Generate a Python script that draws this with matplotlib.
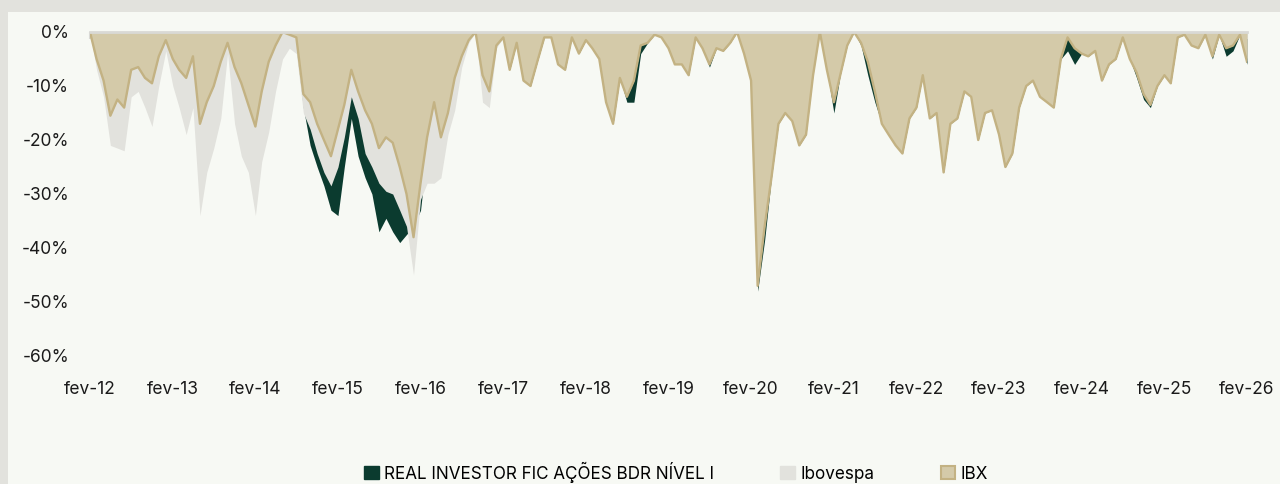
"""Drawdown chart: fund vs Ibovespa vs IBX."""
import matplotlib
matplotlib.use('Agg')
import matplotlib.pyplot as plt
import pandas as pd
from matplotlib.patches import Patch, Rectangle
from matplotlib.ticker import FuncFormatter

C = {'border': '#e2e2dd', 'bg': '#f7f9f4', 'fund': '#0b3b2f', 'ibov': '#e2e2dd',
     'ibx': '#d4caa9', 'ibx_edge': '#c3b283', 'axis': '#d9d9d5', 'text': '#1a1a1a'}

dates = pd.date_range('2012-02-01', '2026-02-01', freq='MS')
tick_dates = pd.date_range('2012-02-01', '2026-02-01', freq='12MS')
tick_labels = ['fev-12', 'fev-13', 'fev-14', 'fev-15', 'fev-16', 'fev-17', 'fev-18',
               'fev-19', 'fev-20', 'fev-21', 'fev-22', 'fev-23', 'fev-24', 'fev-25', 'fev-26']
series_names = ['REAL INVESTOR FIC AÇÕES BDR NÍVEL I', 'Ibovespa', 'IBX']

# drawdown in %, monthly, fev-12 .. fev-26
ibx = [0, -5, -9, -15.5, -12.5, -14, -7, -6.5, -8.5, -9.5, -4.5, -1.5,
       -5, -7, -8.5, -4.5, -17, -13, -10, -5.5, -2, -6.5, -9.5, -13.5,
       -17.5, -11, -5.5, -2.5, 0, -0.5, -1, -11.5, -13, -17, -20, -23,
       -18, -13.5, -7, -11, -14.5, -17, -21.5, -19.5, -20.5, -25, -30, -38,
       -28, -19.5, -13, -19.5, -15, -8.5, -4.5, -1.5, 0, -8, -11, -2.5,
       -1, -7, -2, -9, -10, -5.5, -1, -1, -6, -7, -1, -4,
       -1.5, -3, -5, -13, -17, -8.5, -12, -9, -2.5, -2, -0.5, -1,
       -3, -6, -6, -8, -1, -3, -6, -3, -3.5, -2, 0, -4,
       -9, -47, -36, -27, -17, -15, -16.5, -21, -19, -8, 0, -7,
       -13, -8, -2.5, 0, -2, -5.5, -11, -17, -19, -21, -22.5, -16,
       -14, -8, -16, -15, -26, -17, -16, -11, -12, -20, -15, -14.5,
       -19, -25, -22.5, -14, -10, -9, -12, -13, -14, -5, -1, -3,
       -4, -4.5, -3.5, -9, -6, -5, -1, -5, -7.5, -11.5, -13.5, -10,
       -8, -9.5, -1, -0.5, -2.5, -3, -0.5, -4.5, -0.5, -3, -2.5, -0.5,
       -5.5]

ibov = [0, -7, -12, -21, -21.5, -22, -12, -11, -14, -17.5, -10, -3.5,
        -10, -14, -19, -14, -34, -26, -21.5, -16, -4, -17, -23, -26,
        -34, -24, -18.5, -11, -5, -3, -4, -15, -18, -22.5, -26, -28.5,
        -25, -19.5, -12, -16, -22.5, -25, -28, -29.5, -30, -33, -36, -45,
        -31, -28, -28, -27, -19, -14.5, -6.5, -2, 0, -13, -14, -3,
        -1, -6.5, -2, -8.5, -9.5, -5, -1, -1, -5.5, -6.5, -1, -3.5,
        -1, -2.5, -4.5, -12.5, -16, -8, -11.5, -8.5, -2, -1.5, 0, -1,
        -2.5, -5.5, -5.5, -7.5, -1, -2.5, -5.5, -2.5, -3, -1.5, 0, -3.5,
        -8.5, -46, -35, -26, -16.5, -14.5, -16, -20, -18.5, -7.5, 0, -6.5,
        -12.5, -7.5, -2, 0, -1.5, -5, -10.5, -16, -18, -20, -22, -15,
        -13, -7.5, -15, -14.5, -25, -16, -15, -10.5, -11.5, -19, -14, -14,
        -18, -24, -22, -13.5, -9.5, -8.5, -11.5, -12.5, -13.5, -4.5, -0.5, -2.5,
        -3.5, -4, -3, -8.5, -5.5, -4.5, -0.5, -4.5, -7, -11, -13, -9.5,
        -7.5, -9, -0.5, 0, -2, -2.5, 0, -4, 0, -2.5, -2, 0,
        -5]

fund = [0, -4.5, -8.5, -15, -12, -13.5, -6.5, -6, -8, -9, -4, -1,
        -4.5, -6.5, -8, -4, -16, -12.5, -9.5, -5, -1.5, -6, -9, -13,
        -17, -10.5, -5, -2, 0, -1, -3, -14, -21, -25, -28.5, -33,
        -34, -25, -16, -23, -27, -30, -37, -34.5, -37, -39, -37.5, -36,
        -33, -22, -14, -19, -15, -8.5, -4.5, -1.5, 0, -8, -11, -2.5,
        -1, -7, -2, -9, -10, -5.5, -1, -1, -6, -7, -1, -4,
        -1.5, -3, -5, -13, -17, -8.5, -13, -13, -4, -2, -0.5, -1,
        -3, -6, -6, -8, -1, -3, -6.5, -3, -3.5, -2, 0, -4,
        -9, -48, -38.5, -27, -17, -15, -16.5, -21, -19, -6, 0, -7,
        -15, -8, -2.5, 0, -2.5, -8, -13, -17, -19, -21, -22.5, -16,
        -14, -8, -16, -15, -26, -17, -16, -11, -12, -20, -15, -14.5,
        -19, -25, -22.5, -14, -10, -9, -12, -13, -14, -5, -3.5, -6,
        -4, -4.5, -3.5, -9, -6, -5, -1, -5, -8.5, -12.5, -14, -10,
        -8, -9.5, -1, -0.5, -2.5, -3, -0.5, -5, -0.5, -4.5, -3.5, -0.5,
        -6]

W, H = 1280, 484
fig = plt.figure(figsize=(W / 100, H / 100), dpi=100)
fig.patch.set_facecolor(C['bg'])
# grey frame strips at top and left
fig.patches.append(Rectangle((0, 1 - 12 / H), 1, 12 / H, transform=fig.transFigure,
                             facecolor=C['border'], edgecolor='none', zorder=-5))
fig.patches.append(Rectangle((0, 0), 7.5 / W, 1, transform=fig.transFigure,
                             facecolor=C['border'], edgecolor='none', zorder=-5))

ax = fig.add_axes([90 / W, 1 - 356 / H, 1157 / W, 324 / H])
ax.set_facecolor(C['bg'])

ax.fill_between(dates, fund, 0, color=C['fund'], linewidth=0, zorder=1)
ax.fill_between(dates, ibov, 0, color=C['ibov'], linewidth=0, zorder=2)
ax.fill_between(dates, ibx, 0, color=C['ibx'], linewidth=0, zorder=3)
ax.plot(dates, ibx, color=C['ibx_edge'], lw=1.7, zorder=4)

ax.set_xlim(dates[0], dates[-1])
ax.set_ylim(-60, 0)
ax.set_yticks(range(-60, 1, 10))
ax.yaxis.set_major_formatter(FuncFormatter(lambda v, p: f'{v:.0f}%'))
ax.set_xticks(tick_dates)
ax.set_xticklabels(tick_labels)

for s in ['left', 'right', 'bottom']:
    ax.spines[s].set_visible(False)
ax.spines['top'].set_color(C['axis'])
ax.spines['top'].set_linewidth(2)
ax.spines['top'].set_zorder(5)

font = 'Inter'
ax.tick_params(axis='y', length=0, pad=15, labelsize=12.5, labelcolor=C['text'])
ax.tick_params(axis='x', bottom=False, top=True, direction='in', length=5, width=1.5,
               color=C['axis'], pad=18, labelsize=12.5, labelcolor=C['text'])
for lab in ax.get_xticklabels() + ax.get_yticklabels():
    lab.set_fontfamily(font)

handles = [Patch(facecolor=C['fund'], edgecolor=C['fund']),
           Patch(facecolor=C['ibov'], edgecolor=C['ibov']),
           Patch(facecolor=C['ibx'], edgecolor=C['ibx_edge'], linewidth=1.5)]
fig.legend(handles, series_names, loc='center', bbox_to_anchor=(676 / W, 1 - 472 / H),
           ncol=3, frameon=False, handlelength=0.85, handleheight=0.85,
           handletextpad=0.3, columnspacing=3.9,
           prop={'family': font, 'size': 12.3})

fig.savefig('out.png', dpi=100, facecolor=fig.get_facecolor())
